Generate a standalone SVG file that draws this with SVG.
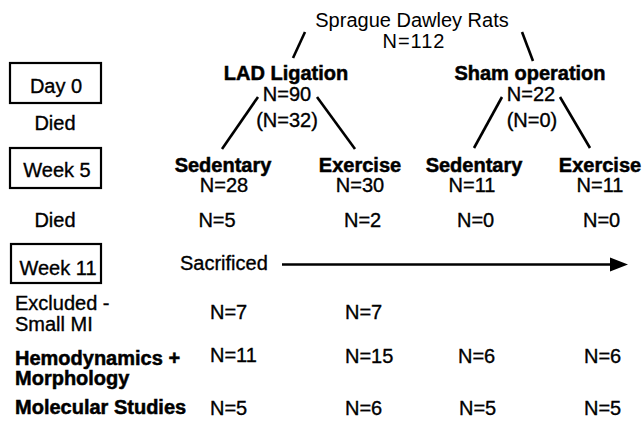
<svg xmlns="http://www.w3.org/2000/svg" width="644" height="423" viewBox="0 0 644 423">
<style>
text{font-family:"Liberation Sans",Arial,sans-serif;font-size:20px;fill:#000}
.r{stroke:#000;stroke-width:0.35}
.b{font-weight:bold;stroke:#000;stroke-width:0.5}
.t{font-size:20px;stroke:none}
.m{text-anchor:middle}
.box{fill:#fff;stroke:#000;stroke-width:2.2}
.ln{stroke:#000;stroke-width:2.6;stroke-linecap:butt;fill:none}
</style>
<rect width="644" height="423" fill="#fff"/>
<g id="connectors">
<line class="ln" x1="305" y1="32" x2="293" y2="58"/>
<line class="ln" x1="522" y1="32" x2="533" y2="61"/>
<line class="ln" x1="258" y1="97" x2="222" y2="149"/>
<line class="ln" x1="317" y1="97" x2="355" y2="149"/>
<line class="ln" x1="502" y1="97" x2="474" y2="148"/>
<line class="ln" x1="560" y1="97" x2="590" y2="148"/>
<line class="ln" x1="282" y1="264.5" x2="614" y2="264.5"/>
<polygon points="628,264.5 610,257.5 610,271.5" fill="#000"/>
</g>
<g id="root"><text class="t m" x="412" y="27">Sprague Dawley Rats</text><text class="t m" x="414" y="48" letter-spacing="1">N=112</text></g>
<g id="day0"><rect class="box" x="10" y="63" width="91" height="40"/><text class="r m" x="56" y="93">Day 0</text></g>
<g id="died1"><text class="r m" x="55" y="130">Died</text></g>
<g id="week5"><rect class="box" x="10" y="148" width="91" height="40"/><text class="r m" x="57" y="177">Week 5</text></g>
<g id="died2"><text class="r m" x="55" y="227">Died</text></g>
<g id="week11"><rect class="box" x="11" y="244" width="90" height="39"/><text class="r m" x="58" y="275" font-size="18.5">Week 11</text></g>
<g id="lad"><text class="b m" x="286" y="80">LAD Ligation</text><text class="r m" x="287" y="101">N=90</text><text class="r m" x="287" y="127">(N=32)</text></g>
<g id="sham"><text class="b m" x="530" y="80">Sham operation</text><text class="r m" x="531" y="101">N=22</text><text class="r m" x="532" y="127">(N=0)</text></g>
<g id="lad-sed"><text class="b m" x="223" y="172">Sedentary</text><text class="r m" x="224" y="192">N=28</text></g>
<g id="lad-ex"><text class="b m" x="360" y="172">Exercise</text><text class="r m" x="360" y="192">N=30</text></g>
<g id="sham-sed"><text class="b m" x="474" y="172">Sedentary</text><text class="r m" x="472" y="192">N=11</text></g>
<g id="sham-ex"><text class="b m" x="600" y="172">Exercise</text><text class="r m" x="600" y="192">N=11</text></g>
<g id="died-row"><text class="r m" x="217" y="227">N=5</text><text class="r" x="344" y="227">N=2</text><text class="r" x="457" y="227">N=0</text><text class="r" x="583" y="227">N=0</text></g>
<g id="sacrificed"><text class="r" x="180" y="270">Sacrificed</text></g>
<g id="excluded"><text class="r" x="15" y="310">Excluded -</text><text class="r" x="15" y="331">Small MI</text><text class="r" x="210" y="319">N=7</text><text class="r" x="345" y="319">N=7</text></g>
<g id="hemo"><text class="b" x="15" y="365">Hemodynamics +</text><text class="b" x="15" y="385">Morphology</text><text class="r" x="210" y="362">N=11</text><text class="r" x="345" y="363">N=15</text><text class="r" x="458" y="363">N=6</text><text class="r" x="584" y="363">N=6</text></g>
<g id="molecular"><text class="b" x="15" y="414">Molecular Studies</text><text class="r" x="210" y="415">N=5</text><text class="r" x="345" y="415">N=6</text><text class="r" x="459" y="415">N=5</text><text class="r" x="584" y="415">N=5</text></g>
</svg>
